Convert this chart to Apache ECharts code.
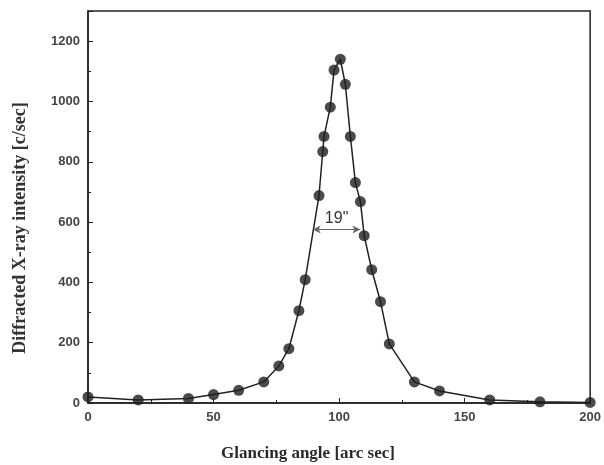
<!DOCTYPE html>
<html>
<head>
<meta charset="utf-8">
<script src="https://cdn.jsdelivr.net/npm/echarts@6/dist/echarts.min.js"></script>
<style>html,body{margin:0;padding:0;background:#fff;}#c{width:604px;height:465px;}</style>
</head>
<body>
<div id="c"></div>
<script>
// Glancing angle [arc sec]
const angles = [0, 20, 40, 50, 60, 70, 76, 80, 84, 86.5, 92, 93.5, 94, 96.5, 98, 100.5, 102.5, 104.5, 106.5, 108.5, 110, 113, 116.5, 120, 130, 140, 160, 180, 200];
// Diffracted X-ray intensity [c/sec]
const intensity = [20, 10, 15, 28, 42, 70, 123, 180, 306, 409, 688, 834, 884, 981, 1104, 1140, 1057, 884, 731, 668, 555, 442, 336, 196, 70, 40, 10, 4, 2];
// FWHM annotation
const fwhmLevel = 575;
const fwhmRange = [89.5, 108.5];
const fwhmText = '19"';
const xTitle = 'Glancing angle [arc sec]';
const yTitle = 'Diffracted X-ray intensity [c/sec]';

const pts = angles.map((a, i) => [a, intensity[i]]);

const chart = echarts.init(document.getElementById('c'), null, {renderer: 'canvas'});
chart.setOption({
  backgroundColor: '#fff',
  animation: false,
  title: {
    text: xTitle, left: 303, top: 440, textAlign: 'center',
    textStyle: {fontFamily: 'Liberation Serif', fontWeight: 'bold', fontSize: 17, color: '#2a2a2a'}
  },
  graphic: [{
    type: 'text', x: 20, y: 228, rotation: Math.PI / 2,
    style: {text: yTitle, align: 'center', verticalAlign: 'middle',
      font: 'bold 18px "Liberation Serif"', fill: '#333'}
  }],
  grid: {left: 88, right: 12, top: 11, bottom: 62, show: true, borderColor: '#222', borderWidth: 1.5},
  xAxis: {
    type: 'value', min: 0, max: 200, interval: 50,
    axisLine: {lineStyle: {color: '#222', width: 1.5}},
    axisTick: {inside: true, length: 5, lineStyle: {color: '#222'}},
    minorTick: {show: true, splitNumber: 2, length: 3, lineStyle: {color: '#222'}},
    axisLabel: {fontFamily: 'Liberation Sans', fontWeight: 'bold', fontSize: 13, color: '#444', margin: 8,
      formatter: v => String(v)},
    splitLine: {show: false}
  },
  yAxis: {
    type: 'value', min: 0, max: 1300, interval: 200,
    axisLine: {lineStyle: {color: '#222', width: 1.5}},
    axisTick: {inside: true, length: 5, lineStyle: {color: '#222'}},
    minorTick: {show: true, splitNumber: 2, length: 3, lineStyle: {color: '#222'}},
    axisLabel: {fontFamily: 'Liberation Sans', fontWeight: 'bold', fontSize: 13, color: '#444', margin: 8,
      showMaxLabel: false, formatter: v => String(v)},
    splitLine: {show: false}
  },
  series: [
    {
      type: 'line', data: pts, showSymbol: false, smooth: false,
      lineStyle: {color: '#222', width: 1.5},
      markLine: {
        silent: true, symbol: ['arrow', 'arrow'], symbolSize: [6, 8],
        lineStyle: {color: '#666', width: 1.2, type: 'solid'},
        label: {show: true, position: 'middle', formatter: fwhmText, fontFamily: 'Liberation Sans', fontSize: 16, color: '#333', distance: 3},
        data: [[{coord: [fwhmRange[0], fwhmLevel]}, {coord: [fwhmRange[1], fwhmLevel]}]]
      },
      z: 2
    },
    {
      type: 'scatter', data: pts, symbol: 'circle', symbolSize: 11,
      itemStyle: {color: '#1e1e1e'}, z: 3
    }
  ]
});
</script>
</body>
</html>
